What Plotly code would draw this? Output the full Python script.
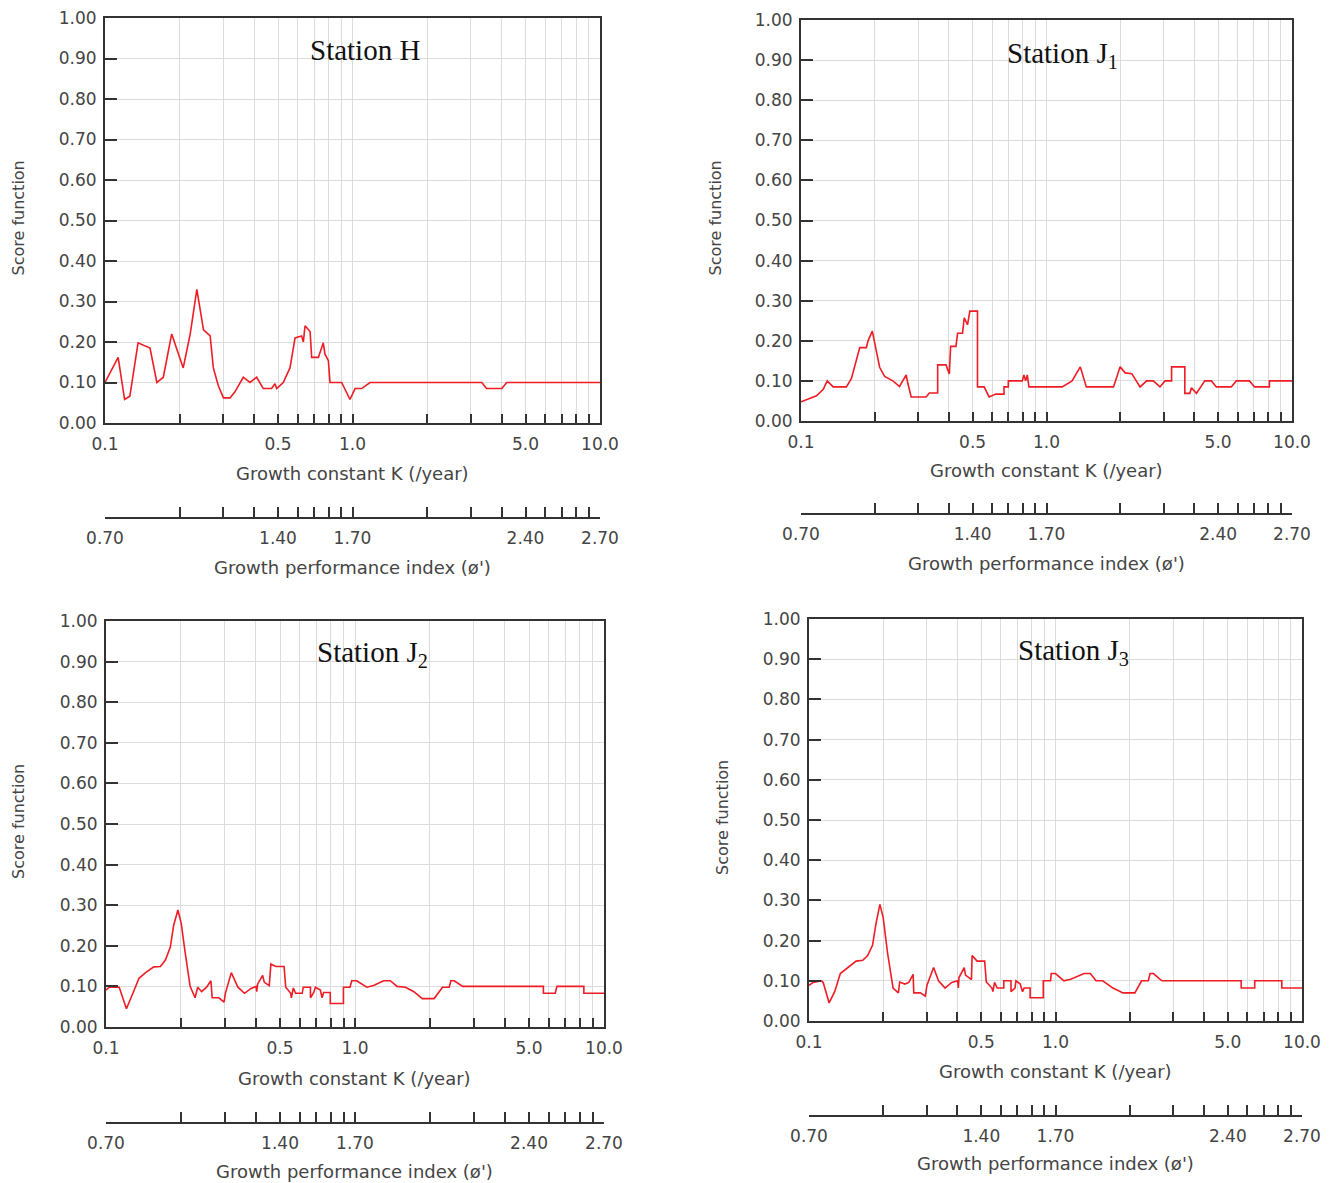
import numpy as np
import plotly.graph_objects as go

W, H = 1337, 1183          # browser window
PAGE_MARGIN = 8            # default body margin of the html page
FW, FH = W - 2 * PAGE_MARGIN, H - PAGE_MARGIN

# ---------------- data ----------------
K_H = [0.1, 0.113, 0.120, 0.126, 0.136, 0.152, 0.162, 0.172, 0.186, 0.195, 0.207, 0.221, 0.235, 0.250,
       0.266, 0.274, 0.287, 0.301, 0.320, 0.335, 0.362, 0.385, 0.410, 0.436, 0.471, 0.486, 0.494, 0.525,
       0.559, 0.586, 0.623, 0.633, 0.643, 0.674, 0.684, 0.728, 0.762, 0.774, 0.799, 0.811, 0.904, 0.977,
       1.024, 1.089, 1.177, 3.33, 3.48, 4.01, 4.20, 10.0]
S_H = [0.100, 0.162, 0.058, 0.066, 0.198, 0.185, 0.100, 0.113, 0.220, 0.185, 0.136, 0.220, 0.330, 0.230,
       0.215, 0.136, 0.092, 0.062, 0.062, 0.077, 0.113, 0.100, 0.113, 0.085, 0.085, 0.097, 0.085, 0.100,
       0.136, 0.210, 0.215, 0.200, 0.240, 0.226, 0.162, 0.162, 0.198, 0.170, 0.154, 0.100, 0.100, 0.058,
       0.085, 0.085, 0.100, 0.100, 0.085, 0.085, 0.100, 0.100]

K_J1 = [0.1, 0.1157, 0.1232, 0.1279, 0.1352, 0.1531, 0.1605, 0.1735, 0.1846, 0.1875, 0.1952, 0.2091,
        0.2191, 0.2368, 0.252, 0.2682, 0.2724, 0.281, 0.3232, 0.3334, 0.3603, 0.3603, 0.3896, 0.4019,
        0.4069, 0.4277, 0.4344, 0.455, 0.4622, 0.4768, 0.4873, 0.5235, 0.5235, 0.557, 0.5837, 0.6213,
        0.6714, 0.6714, 0.699, 0.699, 0.797, 0.809, 0.822, 0.835, 0.848, 1.158, 1.271, 1.373, 1.453,
        1.875, 1.995, 2.091, 2.225, 2.405, 2.559, 2.723, 2.899, 3.037, 3.232, 3.232, 3.66, 3.66, 3.835,
        3.895, 4.081, 4.412, 4.695, 4.92, 5.66, 5.93, 6.71, 7.036, 8.09, 8.09, 10.0]
S_J1 = [0.048, 0.063, 0.079, 0.100, 0.085, 0.085, 0.106, 0.183, 0.183, 0.200, 0.224, 0.134, 0.111, 0.100,
        0.086, 0.115, 0.094, 0.060, 0.060, 0.070, 0.070, 0.140, 0.140, 0.117, 0.186, 0.186, 0.219, 0.219,
        0.257, 0.240, 0.274, 0.274, 0.085, 0.085, 0.060, 0.067, 0.067, 0.085, 0.085, 0.100, 0.100, 0.115,
        0.100, 0.115, 0.085, 0.085, 0.100, 0.135, 0.085, 0.085, 0.135, 0.120, 0.118, 0.085, 0.100, 0.100,
        0.085, 0.100, 0.100, 0.135, 0.135, 0.069, 0.069, 0.083, 0.069, 0.100, 0.100, 0.085, 0.085, 0.100,
        0.100, 0.085, 0.085, 0.100, 0.100]

K_J2 = [0.1, 0.1031, 0.113, 0.1208, 0.1276, 0.1357, 0.1442, 0.1556, 0.1654, 0.1732, 0.1813, 0.1869,
        0.1944, 0.2004, 0.2079, 0.2177, 0.2279, 0.2335, 0.2422, 0.2535, 0.2638, 0.267, 0.2838, 0.298,
        0.3016, 0.3186, 0.3387, 0.3599, 0.3826, 0.4005, 0.403, 0.4067, 0.4257, 0.4323, 0.4524, 0.4594,
        0.481, 0.519, 0.527, 0.5518, 0.555, 0.5654, 0.5776, 0.614, 0.6196, 0.6624, 0.6624, 0.6829, 0.6935,
        0.726, 0.737, 0.7485, 0.7956, 0.7956, 0.8986, 0.8986, 0.955, 0.970, 1.016, 1.115, 1.187, 1.303,
        1.387, 1.475, 1.595, 1.724, 1.863, 2.078, 2.246, 2.389, 2.427, 2.504, 2.707, 5.71, 5.71, 6.37,
        6.47, 8.30, 8.30, 10.0]
S_J2 = [0.091, 0.098, 0.098, 0.045, 0.080, 0.120, 0.134, 0.148, 0.149, 0.165, 0.197, 0.250, 0.288, 0.256,
        0.184, 0.100, 0.072, 0.098, 0.087, 0.098, 0.114, 0.072, 0.072, 0.061, 0.083, 0.134, 0.098, 0.083,
        0.095, 0.100, 0.087, 0.106, 0.127, 0.110, 0.102, 0.155, 0.149, 0.149, 0.098, 0.083, 0.072, 0.096,
        0.083, 0.083, 0.098, 0.098, 0.072, 0.085, 0.098, 0.091, 0.072, 0.085, 0.085, 0.058, 0.058, 0.098,
        0.098, 0.114, 0.114, 0.098, 0.102, 0.114, 0.114, 0.100, 0.098, 0.087, 0.070, 0.070, 0.098, 0.098,
        0.114, 0.114, 0.100, 0.100, 0.083, 0.083, 0.100, 0.100, 0.083, 0.083]

K_J3 = [0.1, 0.1041, 0.1124, 0.1142, 0.1207, 0.1271, 0.134, 0.1438, 0.1553, 0.1652, 0.173, 0.1811,
        0.1868, 0.1939, 0.1999, 0.2081, 0.2193, 0.2304, 0.2333, 0.2449, 0.2541, 0.2645, 0.2661, 0.283,
        0.2964, 0.301, 0.3202, 0.3353, 0.3565, 0.3793, 0.4009, 0.4034, 0.4059, 0.4264, 0.4315, 0.4561,
        0.4589, 0.4806, 0.5159, 0.524, 0.5521, 0.5572, 0.5658, 0.580, 0.6168, 0.6168, 0.6599, 0.6599,
        0.6848, 0.6912, 0.7194, 0.735, 0.7464, 0.789, 0.789, 0.8923, 0.8923, 0.9548, 0.9608, 1.0, 1.082,
        1.152, 1.307, 1.384, 1.460, 1.555, 1.710, 1.879, 2.099, 2.235, 2.380, 2.418, 2.496, 2.701, 5.667,
        5.667, 6.43, 6.43, 8.28, 8.28, 10.0]
S_J3 = [0.089, 0.096, 0.100, 0.096, 0.045, 0.073, 0.118, 0.133, 0.149, 0.151, 0.163, 0.189, 0.241, 0.290,
        0.258, 0.171, 0.082, 0.070, 0.097, 0.092, 0.096, 0.116, 0.070, 0.070, 0.062, 0.089, 0.133, 0.100,
        0.082, 0.096, 0.100, 0.082, 0.108, 0.133, 0.114, 0.103, 0.163, 0.149, 0.149, 0.097, 0.082, 0.073,
        0.096, 0.082, 0.082, 0.100, 0.100, 0.073, 0.082, 0.100, 0.092, 0.073, 0.082, 0.082, 0.058, 0.058,
        0.100, 0.100, 0.118, 0.118, 0.100, 0.104, 0.118, 0.118, 0.100, 0.100, 0.082, 0.070, 0.070, 0.100,
        0.100, 0.118, 0.118, 0.100, 0.100, 0.082, 0.082, 0.100, 0.100, 0.082, 0.082]

station_names = ["Station H", "Station J<sub>1</sub>", "Station J<sub>2</sub>", "Station J<sub>3</sub>"]
series_K = [K_H, K_J1, K_J2, K_J3]
series_S = [S_H, S_J1, S_J2, S_J3]

k_ticks = [0.1, 0.2, 0.3, 0.4, 0.5, 0.6, 0.7, 0.8, 0.9, 1.0, 2, 3, 4, 5, 6, 7, 8, 9, 10]
k_labels = {0.1: "0.1", 0.5: "0.5", 1.0: "1.0", 5: "5.0", 10: "10.0"}
y_ticks = [0.0, 0.1, 0.2, 0.3, 0.4, 0.5, 0.6, 0.7, 0.8, 0.9, 1.0]
y_labels = ["0.00", "0.10", "0.20", "0.30", "0.40", "0.50", "0.60", "0.70", "0.80", "0.90", "1.00"]
phi_offset = 1.70  # phi' = log10(K) + 1.70
phi_labels = {0.1: "0.70", 0.5: "1.40", 1.0: "1.70", 5: "2.40", 10: "2.70"}
phi_range = [np.log10(k_ticks[0]) + phi_offset, np.log10(k_ticks[-1]) + phi_offset]

# ---------------- layout (pixel geometry in the window) ----------------
boxes = [(105, 600, 18, 423), (801, 1292, 20, 421), (106, 604, 621, 1027), (809, 1302, 619, 1021)]
phi_line_y = [517, 513, 1122, 1115]
xtitle_y = [474, 470, 1078, 1071]
phititle_y = [567, 563, 1171, 1163]
ytitle_x = [18, 715, 18, 722]
station_xy = [(365, 50), (1062, 55), (373, 654), (1073, 652)]

def px(x):
    return (x - PAGE_MARGIN) / FW

def py(y):
    return 1 - (y - PAGE_MARGIN) / FH

FONT = "DejaVu Sans"
TXT = "#444444"
RED = "#ee1c24"
FRAME = "#333333"
GRID = "#dcdcdc"

fig = go.Figure()
layout = dict(width=FW, height=FH, margin=dict(l=0, r=0, t=0, b=0, autoexpand=False),
              paper_bgcolor="white", plot_bgcolor="white", showlegend=False)
annotations = []

for i in range(4):
    l, r, t, b = boxes[i]
    n = i + 1
    xa, ya = f"xaxis{n}", f"yaxis{n}"
    fig.add_trace(go.Scatter(x=series_K[i], y=series_S[i], mode="lines",
                             line=dict(color=RED, width=1.6),
                             xaxis=f"x{n}", yaxis=f"y{n}", hoverinfo="skip"))
    layout[xa] = dict(domain=[px(l), px(r)], anchor=f"y{n}", type="log", range=[-1, 1],
                      tickmode="array", tickvals=k_ticks,
                      ticktext=[k_labels.get(k, "") for k in k_ticks],
                      ticks="inside", ticklen=9, tickwidth=1.5, tickcolor=FRAME,
                      showgrid=True, gridcolor=GRID, gridwidth=1,
                      showline=True, linecolor=FRAME, linewidth=2, mirror=True,
                      zeroline=False, ticklabelstandoff=5, automargin=False,
                      ticklabeloverflow="allow",
                      tickfont=dict(family=FONT, size=17, color=TXT))
    layout[ya] = dict(domain=[py(b), py(t)], anchor=f"x{n}", range=[0, 1],
                      tickmode="array", tickvals=y_ticks, ticktext=y_labels,
                      ticks="inside", ticklen=12, tickwidth=1.5, tickcolor=FRAME,
                      showgrid=True, gridcolor=GRID, gridwidth=1,
                      showline=True, linecolor=FRAME, linewidth=2, mirror=True,
                      zeroline=False, ticklabelstandoff=3, automargin=False,
                      ticklabeloverflow="allow",
                      tickfont=dict(family=FONT, size=17, color=TXT))
    # secondary axis: growth performance index
    m = n + 4
    yl = phi_line_y[i]
    fig.add_trace(go.Scatter(x=phi_range, y=[None, None], mode="lines",
                             xaxis=f"x{m}", yaxis=f"y{m}", hoverinfo="skip", showlegend=False))
    layout[f"xaxis{m}"] = dict(domain=[px(l), px(r)], anchor=f"y{m}", range=phi_range,
                               tickmode="array",
                               tickvals=[np.log10(k) + phi_offset for k in k_ticks],
                               ticktext=[phi_labels.get(k, "") for k in k_ticks],
                               ticks="inside", ticklen=10, tickwidth=1.5, tickcolor=FRAME,
                               showgrid=False, zeroline=False,
                               showline=True, linecolor=FRAME, linewidth=1.5,
                               ticklabelstandoff=5, automargin=False,
                               ticklabeloverflow="allow",
                               tickfont=dict(family=FONT, size=17, color=TXT))
    layout[f"yaxis{m}"] = dict(domain=[py(yl), py(yl) + 0.02], anchor=f"x{m}",
                               visible=False, range=[0, 1], automargin=False)
    cx = (l + r) / 2
    annotations.append(dict(text="Growth constant K (/year)", x=px(cx), y=py(xtitle_y[i]),
                            xref="paper", yref="paper", showarrow=False,
                            xanchor="center", yanchor="middle",
                            font=dict(family=FONT, size=18, color=TXT)))
    annotations.append(dict(text="Growth performance index (ø')", x=px(cx), y=py(phititle_y[i]),
                            xref="paper", yref="paper", showarrow=False,
                            xanchor="center", yanchor="middle",
                            font=dict(family=FONT, size=18, color=TXT)))
    annotations.append(dict(text="Score function", x=px(ytitle_x[i]), y=py((t + b) / 2 - 2),
                            xref="paper", yref="paper", showarrow=False, textangle=-90,
                            xanchor="center", yanchor="middle",
                            font=dict(family=FONT, size=16, color=TXT)))
    sx, sy = station_xy[i]
    annotations.append(dict(text=station_names[i], x=px(sx), y=py(sy),
                            xref="paper", yref="paper", showarrow=False,
                            xanchor="center", yanchor="middle",
                            font=dict(family="Liberation Serif", size=29, color="#111111")))

layout["annotations"] = annotations
fig.update_layout(**layout)
fig.write_html("out.html")
